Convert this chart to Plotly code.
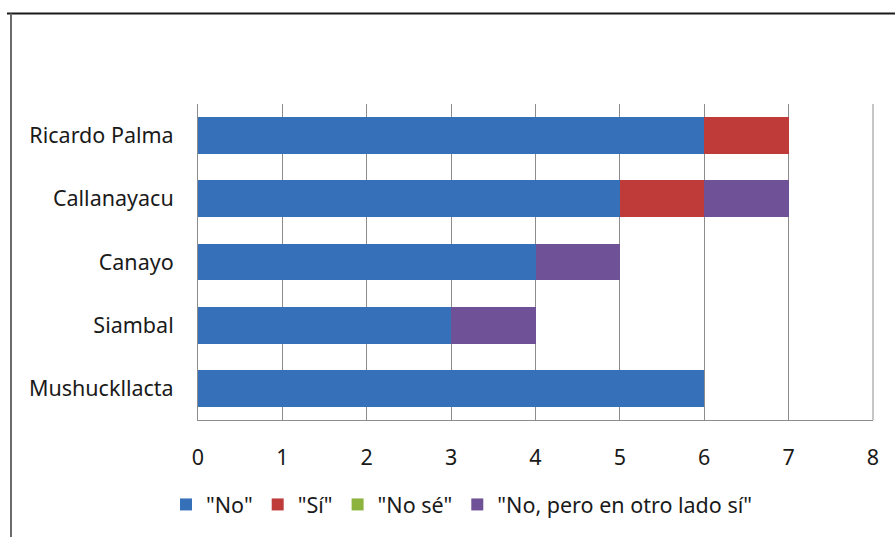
import plotly.graph_objects as go

# Survey answers per community
communities = ["Ricardo Palma", "Callanayacu", "Canayo", "Siambal", "Mushuckllacta"]
answer_no = [6, 5, 4, 3, 6]
answer_si = [1, 1, 0, 0, 0]
answer_no_se = [0, 0, 0, 0, 0]
answer_otro_lado = [0, 1, 1, 1, 0]

series = [
    ('"No"', answer_no, "#3670B8"),
    ('"Sí"', answer_si, "#BE3B39"),
    ('"No sé"', answer_no_se, "#8BB33D"),
    ('"No, pero en otro lado sí"', answer_otro_lado, "#6E5196"),
]

FONT = "Noto Sans, Open Sans, sans-serif"
FSIZE = 21.5

fig = go.Figure()
for name, values, color in series:
    fig.add_trace(go.Bar(
        y=communities,
        x=values,
        name=name,
        orientation="h",
        marker=dict(color=color, line=dict(width=0)),
    ))

W, H = 895, 537
L, R, T, B = 198, 22, 104, 115
pw, ph = W - L - R, H - T - B

def px_x(x):
    return (x - L) / pw

def px_y(y):
    return (H - B - y) / ph

fig.update_layout(
    width=W,
    height=H,
    margin=dict(l=L, r=R, t=T, b=B),
    barmode="stack",
    bargap=0.42,
    paper_bgcolor="white",
    plot_bgcolor="white",
    font=dict(family=FONT, size=FSIZE, color="#1a1a1a"),
    showlegend=True,
    legend=dict(
        orientation="h",
        x=px_x(462),
        xanchor="center",
        y=px_y(507),
        yanchor="middle",
        font=dict(family=FONT, size=FSIZE, color="#1a1a1a"),
        traceorder="normal",
        itemclick=False,
    ),
    xaxis=dict(
        range=[0, 8],
        dtick=1,
        tick0=0,
        showgrid=True,
        gridcolor="#8c8c8c",
        gridwidth=1,
        zeroline=False,
        showline=True,
        linecolor="#8c8c8c",
        linewidth=1,
        ticks="",
        ticklabelstandoff=18,
        fixedrange=True,
    ),
    yaxis=dict(
        categoryorder="array",
        categoryarray=communities[::-1],
        showgrid=False,
        zeroline=False,
        showline=True,
        linecolor="#8c8c8c",
        linewidth=1,
        ticks="",
        ticklabelstandoff=19,
        fixedrange=True,
    ),
    shapes=[
        # chart frame: top edge and left edge
        dict(type="line", xref="paper", yref="paper",
             x0=px_x(7), x1=px_x(895), y0=px_y(13), y1=px_y(13),
             line=dict(color="#1a1a1a", width=2)),
        dict(type="line", xref="paper", yref="paper",
             x0=px_x(11), x1=px_x(11), y0=px_y(13), y1=px_y(540),
             line=dict(color="#6b6b6b", width=2)),
        # right edge of the plot area
        dict(type="line", xref="paper", yref="paper",
             x0=1, x1=1, y0=0, y1=1,
             line=dict(color="#8c8c8c", width=1)),
    ],
)

fig.write_html("out.html")
